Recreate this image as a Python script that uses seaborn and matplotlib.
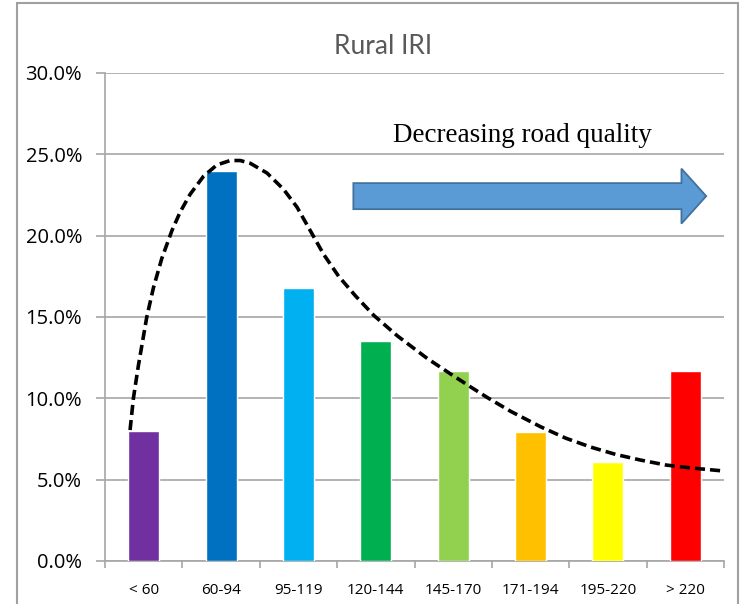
import matplotlib
matplotlib.use("Agg")
import matplotlib.pyplot as plt
import matplotlib.patches as mpatches
from matplotlib.ticker import PercentFormatter, FixedLocator
import seaborn as sns
import pandas as pd

# IRI classes and share of rural road length (%)
categories = ["< 60", "60-94", "95-119", "120-144", "145-170", "171-194", "195-220", "> 220"]
shares = [8.0, 24.0, 16.8, 13.5, 11.7, 7.9, 6.1, 11.7]
bar_colors = ["#7030A0", "#0070C0", "#00B0F0", "#00B050", "#92D050", "#FFC000", "#FFFF00", "#FF0000"]

# Hand-drawn distribution curve (category position, %)
curve_x = [-0.176, -0.133, -0.069, 0.040, 0.126, 0.234, 0.364, 0.471, 0.601, 0.773,
           0.946, 1.118, 1.248, 1.377, 1.594, 1.808, 1.982, 2.154, 2.326, 2.520,
           2.737, 2.974, 3.276, 3.665, 3.966, 4.225, 4.441, 4.743, 5.131, 5.455,
           5.779, 6.102, 6.426, 6.750, 7.073, 7.500]
curve_y = [8.05, 10.0, 12.0, 15.0, 16.8, 18.6, 20.3, 21.45, 22.55, 23.65,
           24.35, 24.62, 24.62, 24.45, 23.85, 22.85, 21.75, 20.3, 18.85, 17.5,
           16.3, 15.1, 13.85, 12.45, 11.5, 10.7, 10.05, 9.2, 8.25, 7.55,
           7.0, 6.55, 6.2, 5.9, 5.72, 5.53]

title = "Rural IRI"
note = "Decreasing road quality"

sns.set_theme(style="white")
plt.rcParams["font.family"] = ["Open Sans", "DejaVu Sans"]

fig = plt.figure(figsize=(7.42, 6.04), dpi=100)
ax = fig.add_axes([105 / 742, 1 - 561 / 604, (724 - 105) / 742, (561 - 73) / 604])

df = pd.DataFrame({"iri": categories, "share": shares})
sns.barplot(data=df, x="iri", y="share", hue="iri", palette=bar_colors,
            legend=False, width=0.4, saturation=1, ax=ax, zorder=3)

ax.plot(curve_x, curve_y, color="black", lw=2.6, linestyle=(0, (2.8, 1.4)),
        zorder=4, dash_joinstyle="round")

grid_c = "#A6A6A6"
ax.set_xlim(-0.5, len(categories) - 0.5)
ax.set_ylim(0, 30)
ax.yaxis.set_major_locator(FixedLocator([0, 5, 10, 15, 20, 25, 30]))
ax.yaxis.set_major_formatter(PercentFormatter(xmax=100, decimals=1))
ax.grid(axis="y", color=grid_c, lw=1.2, zorder=0)
ax.set_axisbelow(True)
ax.set_xlabel("")
ax.set_ylabel("")

for s in ["top", "right"]:
    ax.spines[s].set_visible(False)
for s in ["left", "bottom"]:
    ax.spines[s].set_color(grid_c)
    ax.spines[s].set_linewidth(1.2)

ax.tick_params(axis="y", which="major", left=True, length=6.5, width=1.2, color=grid_c,
               labelsize=14.5, labelcolor="black", pad=10)
ax.tick_params(axis="x", which="major", bottom=False, labelsize=11, labelcolor="black", pad=10)
ax.set_xticks(range(len(categories)))
ax.set_xticklabels(categories)
ax.set_xticks([i - 0.5 for i in range(len(categories) + 1)], minor=True)
ax.tick_params(axis="x", which="minor", bottom=True, length=5, width=1.2, color=grid_c)

# Direction arrow and its caption
ax.add_patch(mpatches.FancyArrow(2.71, 22.43, 7.27 - 2.71, 0, width=1.6, head_width=3.38,
                                 head_length=0.32, length_includes_head=True,
                                 facecolor="#5B9BD5", edgecolor="#41719C", lw=1.3, zorder=5))
ax.text(4.9, 26.15, note, ha="center", va="center", fontsize=19.5,
        family=["Liberation Serif", "DejaVu Serif"], color="black", zorder=5)

fig.text(383 / 742, 1 - 46 / 604, title, ha="center", va="center", fontsize=19,
         color="#595959", family=["Lato", "DejaVu Sans"])

# Chart area frame
fig.patches.append(mpatches.Rectangle((17 / 742, -0.01), (738 - 17) / 742, 1 - 3 / 604 + 0.01,
                                      transform=fig.transFigure, fill=False,
                                      edgecolor="#A0A0A0", lw=1.5, zorder=0))

fig.savefig("out.png", dpi=100)
